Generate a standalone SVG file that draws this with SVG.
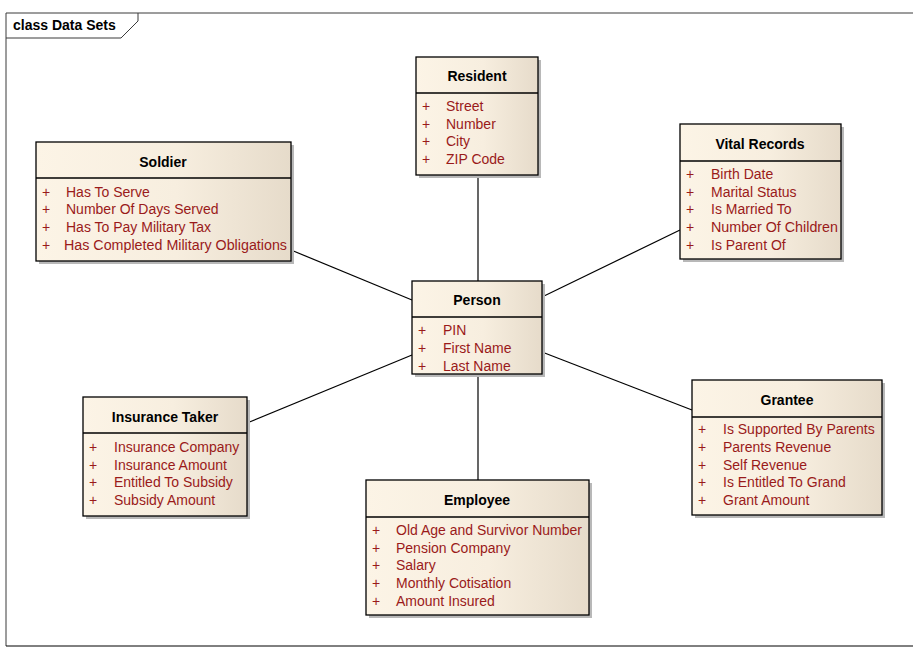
<svg xmlns="http://www.w3.org/2000/svg" width="913" height="653" viewBox="0 0 913 653">
<style>
.frame{fill:none;stroke:#3a3a3a;stroke-width:1}
.box{fill:url(#g);stroke:#000;stroke-width:1.3}
.shadow{fill:#b8b8b8}
.div{stroke:#000;stroke-width:1.3}
.title{font-family:"Liberation Sans",Arial,sans-serif;font-size:14px;font-weight:bold;fill:#000;text-anchor:middle}
.attr{font-family:"Liberation Sans",Arial,sans-serif;font-size:14px;fill:#9a1a1a}
.conn line{stroke:#000;stroke-width:1.2}
.ft{font-family:"Liberation Sans",Arial,sans-serif;font-size:14px;font-weight:bold;fill:#000}
</style>
<defs>
<linearGradient id="g" x1="0" y1="0" x2="1" y2="0">
<stop offset="0" stop-color="#fcf4e6"/>
<stop offset="0.55" stop-color="#f7eedf"/>
<stop offset="1" stop-color="#e6dbca"/>
</linearGradient>
<clipPath id="empclip"><rect x="366" y="480" width="223" height="135"/></clipPath>
</defs>
<rect width="913" height="653" fill="#fff"/>
<g id="frame">
<polyline class="frame" points="6,646 6,13 913,13"/>
<line x1="6" y1="646" x2="913" y2="646" stroke="#000" stroke-width="1"/>
<polyline class="frame" points="6,38 121,38 138,21 138,13"/>
<text class="ft" x="13" y="30">class Data Sets</text>
</g>
<g class="conn" id="connectors">
<line x1="478" y1="175" x2="478" y2="281"/>
<line x1="291" y1="250" x2="412" y2="300"/>
<line x1="680" y1="230" x2="542" y2="297"/>
<line x1="247" y1="423" x2="412" y2="355"/>
<line x1="692" y1="410" x2="542" y2="352"/>
<line x1="478" y1="374" x2="478" y2="480"/>
</g>
<g id="resident">
<rect class="shadow" x="419" y="60" width="122" height="118"/>
<rect class="box" x="416" y="57" width="122" height="118"/>
<line class="div" x1="416" y1="93" x2="538" y2="93"/>
<text class="title" x="477" y="81">Resident</text>
<text class="attr" x="422" y="111">+</text><text class="attr" x="446" y="111">Street</text>
<text class="attr" x="422" y="129">+</text><text class="attr" x="446" y="129">Number</text>
<text class="attr" x="422" y="146">+</text><text class="attr" x="446" y="146">City</text>
<text class="attr" x="422" y="164">+</text><text class="attr" x="446" y="164">ZIP Code</text>
</g>
<g id="soldier">
<rect class="shadow" x="39" y="145" width="255" height="119"/>
<rect class="box" x="36" y="142" width="255" height="119"/>
<line class="div" x1="36" y1="178" x2="291" y2="178"/>
<text class="title" x="163" y="167">Soldier</text>
<text class="attr" x="42" y="197">+</text><text class="attr" x="66" y="197">Has To Serve</text>
<text class="attr" x="42" y="214">+</text><text class="attr" x="66" y="214">Number Of Days Served</text>
<text class="attr" x="42" y="232">+</text><text class="attr" x="66" y="232">Has To Pay Military Tax</text>
<text class="attr" x="42" y="250">+</text><text class="attr" x="64" y="250" textLength="223" lengthAdjust="spacingAndGlyphs">Has Completed Military Obligations</text>
</g>
<g id="vital-records">
<rect class="shadow" x="683" y="127" width="161" height="135"/>
<rect class="box" x="680" y="124" width="161" height="135"/>
<line class="div" x1="680" y1="161" x2="841" y2="161"/>
<text class="title" x="760" y="149">Vital Records</text>
<text class="attr" x="686" y="179">+</text><text class="attr" x="711" y="179">Birth Date</text>
<text class="attr" x="686" y="197">+</text><text class="attr" x="711" y="197">Marital Status</text>
<text class="attr" x="686" y="214">+</text><text class="attr" x="711" y="214">Is Married To</text>
<text class="attr" x="686" y="232">+</text><text class="attr" x="711" y="232" textLength="127" lengthAdjust="spacingAndGlyphs">Number Of Children</text>
<text class="attr" x="686" y="250">+</text><text class="attr" x="711" y="250">Is Parent Of</text>
</g>
<g id="person">
<rect class="shadow" x="415" y="284" width="130" height="93"/>
<rect class="box" x="412" y="281" width="130" height="93"/>
<line class="div" x1="412" y1="317" x2="542" y2="317"/>
<text class="title" x="477" y="305">Person</text>
<text class="attr" x="418" y="335">+</text><text class="attr" x="443" y="335">PIN</text>
<text class="attr" x="418" y="353">+</text><text class="attr" x="443" y="353">First Name</text>
<text class="attr" x="418" y="371">+</text><text class="attr" x="443" y="371">Last Name</text>
</g>
<g id="insurance-taker">
<rect class="shadow" x="86" y="400" width="164" height="119"/>
<rect class="box" x="83" y="397" width="164" height="119"/>
<line class="div" x1="83" y1="433" x2="247" y2="433"/>
<text class="title" x="165" y="422">Insurance Taker</text>
<text class="attr" x="89" y="452">+</text><text class="attr" x="114" y="452">Insurance Company</text>
<text class="attr" x="89" y="470">+</text><text class="attr" x="114" y="470">Insurance Amount</text>
<text class="attr" x="89" y="487">+</text><text class="attr" x="114" y="487">Entitled To Subsidy</text>
<text class="attr" x="89" y="505">+</text><text class="attr" x="114" y="505">Subsidy Amount</text>
</g>
<g id="grantee">
<rect class="shadow" x="695" y="383" width="190" height="135"/>
<rect class="box" x="692" y="380" width="190" height="135"/>
<line class="div" x1="692" y1="417" x2="882" y2="417"/>
<text class="title" x="787" y="405">Grantee</text>
<text class="attr" x="698" y="434">+</text><text class="attr" x="723" y="434">Is Supported By Parents</text>
<text class="attr" x="698" y="452">+</text><text class="attr" x="723" y="452">Parents Revenue</text>
<text class="attr" x="698" y="470">+</text><text class="attr" x="723" y="470">Self Revenue</text>
<text class="attr" x="698" y="487">+</text><text class="attr" x="723" y="487">Is Entitled To Grand</text>
<text class="attr" x="698" y="505">+</text><text class="attr" x="723" y="505">Grant Amount</text>
</g>
<g id="employee">
<rect class="shadow" x="369" y="483" width="223" height="135"/>
<rect class="box" x="366" y="480" width="223" height="135"/>
<line class="div" x1="366" y1="517" x2="589" y2="517"/>
<text class="title" x="477" y="505">Employee</text>
<g clip-path="url(#empclip)">
<text class="attr" x="372" y="535">+</text><text class="attr" x="396" y="535">Old Age and Survivor Number</text>
</g>
<text class="attr" x="372" y="553">+</text><text class="attr" x="396" y="553">Pension Company</text>
<text class="attr" x="372" y="570">+</text><text class="attr" x="396" y="570">Salary</text>
<text class="attr" x="372" y="588">+</text><text class="attr" x="396" y="588">Monthly Cotisation</text>
<text class="attr" x="372" y="606">+</text><text class="attr" x="396" y="606">Amount Insured</text>
</g>
</svg>
